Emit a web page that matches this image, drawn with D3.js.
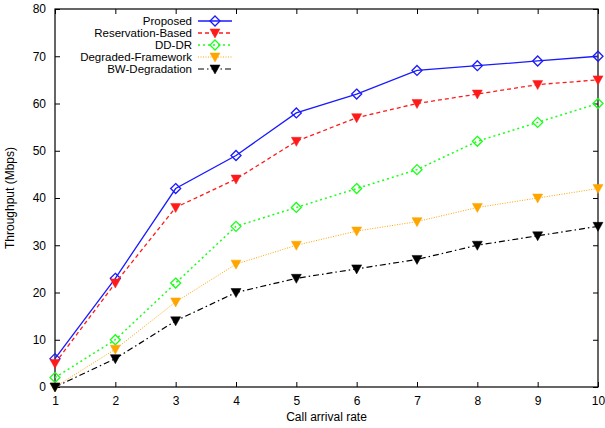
<!DOCTYPE html>
<html>
<head>
<meta charset="utf-8">
<script src="https://cdn.jsdelivr.net/npm/d3@7"></script>
<style>
body { margin: 0; background: #fff; }
text { font-family: "Liberation Sans", Arial, sans-serif; font-size: 12px; fill: #000; }
</style>
</head>
<body>
<div id="chart"></div>
<script>
var rates = [1, 2, 3, 4, 5, 6, 7, 8, 9, 10];
var proposed = [6, 23, 42, 49, 58, 62, 67, 68, 69, 70];
var reservation = [5, 22, 38, 44, 52, 57, 60, 62, 64, 65];
var dddr = [2, 10, 22, 34, 38, 42, 46, 52, 56, 60];
var degraded = [0, 8, 18, 26, 30, 33, 35, 38, 40, 42];
var bwDegradation = [0, 6, 14, 20, 23, 25, 27, 30, 32, 34];
var yTicks = [0, 10, 20, 30, 40, 50, 60, 70, 80];

var series = [
    { name: 'Proposed', values: proposed, color: '#1a1aff', dash: null, marker: 'diamond', width: 1.3 },
    { name: 'Reservation-Based', values: reservation, color: '#ff1a1a', dash: '4,3', marker: 'tri', width: 1.3 },
    { name: 'DD-DR', values: dddr, color: '#1aff1a', dash: '2,3', marker: 'diamond', width: 1.5 },
    { name: 'Degraded-Framework', values: degraded, color: '#ffa500', dash: '1,1.5', marker: 'tri', width: 1 },
    { name: 'BW-Degradation', values: bwDegradation, color: '#000', dash: '6,3,1.5,3', marker: 'tri', width: 1.2 }
];

var width = 605, height = 428;
var margin = { left: 55, right: 7, top: 9, bottom: 41 };
var svg = d3.select('#chart').append('svg').attr('width', width).attr('height', height);

var x = d3.scaleLinear().domain([1, 10]).range([margin.left, width - margin.right]);
var y = d3.scaleLinear().domain([0, 80]).range([height - margin.bottom, margin.top]);

// axes with inward ticks, mirrored
svg.append('g').attr('transform', 'translate(0,' + y(0) + ')')
    .call(d3.axisBottom(x).tickValues(rates).tickSize(-5).tickPadding(9).tickFormat(d3.format('d')))
    .call(function (g) { g.select('.domain').remove(); });
svg.append('g').attr('transform', 'translate(0,' + y(80) + ')')
    .call(d3.axisTop(x).tickValues(rates).tickSize(-5).tickFormat(''))
    .call(function (g) { g.select('.domain').remove(); });
svg.append('g').attr('transform', 'translate(' + x(1) + ',0)')
    .call(d3.axisLeft(y).tickValues(yTicks).tickSize(-5).tickPadding(9))
    .call(function (g) { g.select('.domain').remove(); });
svg.append('g').attr('transform', 'translate(' + x(10) + ',0)')
    .call(d3.axisRight(y).tickValues(yTicks).tickSize(-5).tickFormat(''))
    .call(function (g) { g.select('.domain').remove(); });
svg.selectAll('.tick line').attr('stroke', '#000');
svg.selectAll('.tick text').style('font-size', '12px').attr('fill', '#000');

svg.append('rect')
    .attr('x', x(1)).attr('y', y(80))
    .attr('width', x(10) - x(1)).attr('height', y(0) - y(80))
    .attr('fill', 'none').attr('stroke', '#000').attr('stroke-width', 1.2);

var line = d3.line()
    .x(function (d, i) { return x(rates[i]); })
    .y(function (d) { return y(d); });

function drawMarker(g, s, cx, cy) {
    if (s.marker === 'diamond') {
        g.append('path')
            .attr('d', 'M' + cx + ',' + (cy - 5) + 'L' + (cx + 5) + ',' + cy + 'L' + cx + ',' + (cy + 5) + 'L' + (cx - 5) + ',' + cy + 'Z')
            .attr('fill', 'none').attr('stroke', s.color).attr('stroke-width', 1.3);
    } else {
        g.append('path')
            .attr('d', 'M' + (cx - 5) + ',' + (cy - 4) + 'L' + (cx + 5) + ',' + (cy - 4) + 'L' + cx + ',' + (cy + 5) + 'Z')
            .attr('fill', s.color).attr('stroke', s.color).attr('stroke-width', 0.5);
    }
}

series.forEach(function (s) {
    var g = svg.append('g');
    g.append('path')
        .datum(s.values)
        .attr('d', line)
        .attr('fill', 'none')
        .attr('stroke', s.color)
        .attr('stroke-width', s.width)
        .attr('stroke-dasharray', s.dash);
    s.values.forEach(function (v, i) {
        drawMarker(g, s, x(rates[i]), y(v));
    });
});

// legend
var legend = svg.append('g');
series.forEach(function (s, i) {
    var ly = 21 + i * 12;
    legend.append('text')
        .attr('x', 192).attr('y', ly).attr('dy', '0.35em')
        .attr('text-anchor', 'end').style('font-size', '11.5px').text(s.name);
    legend.append('line')
        .attr('x1', 198).attr('x2', 232).attr('y1', ly).attr('y2', ly)
        .attr('stroke', s.color).attr('stroke-width', s.width)
        .attr('stroke-dasharray', s.dash);
    drawMarker(legend, s, 215, ly);
});

svg.append('text')
    .attr('transform', 'translate(14,' + ((y(0) + y(80)) / 2) + ') rotate(-90)')
    .attr('text-anchor', 'middle').text('Throughput (Mbps)');
svg.append('text')
    .attr('x', (x(1) + x(10)) / 2).attr('y', 421)
    .attr('text-anchor', 'middle').text('Call arrival rate');
</script>
</body>
</html>
